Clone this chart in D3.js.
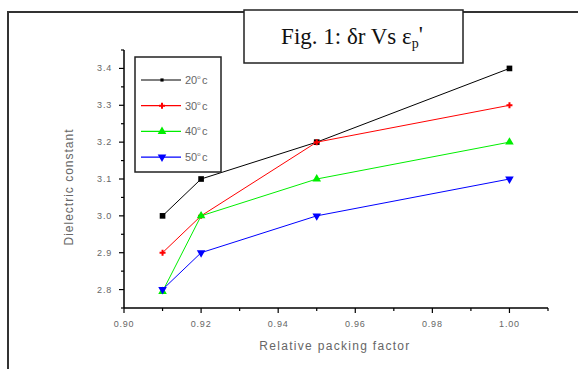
<!DOCTYPE html>
<html>
<head>
<meta charset="utf-8">
<script src="https://cdnjs.cloudflare.com/ajax/libs/d3/7.8.5/d3.min.js"></script>
<style>
  body { margin: 0; background: #fff; }
  svg { display: block; }
</style>
</head>
<body>
<svg width="578" height="369"></svg>
<script>
'use strict';

// chart data
const packing = [0.91, 0.92, 0.95, 1.00];
const temps = ['20', '30', '40', '50'];
const eps20 = [3.0, 3.1, 3.2, 3.4];
const eps30 = [2.9, 3.0, 3.2, 3.3];
const eps40 = [2.795, 3.0, 3.1, 3.2];
const eps50 = [2.8, 2.9, 3.0, 3.1];
const xTicks = [0.90, 0.92, 0.94, 0.96, 0.98, 1.00];
const yTicks = [2.8, 2.9, 3.0, 3.1, 3.2, 3.3, 3.4];

const colors = ['#000', '#ff0000', '#00ee00', '#0000ff'];
const symbols = [d3.symbolSquare, d3.symbolCross, d3.symbolTriangle, d3.symbolTriangle];

const series = [eps20, eps30, eps40, eps50].map((vals, i) => ({
	name: temps[i],
	color: colors[i],
	symbol: symbols[i],
	flip: i === 3,
	points: packing.map((p, j) => ({x: p, y: vals[j]}))
}));

const svg = d3.select('svg');

// outer page frame
svg.append('rect')
	.attr('x', 8).attr('y', 12)
	.attr('width', 600).attr('height', 400)
	.attr('fill', 'none')
	.attr('stroke', '#333')
	.attr('stroke-width', 2);

const x = d3.scaleLinear().domain([0.90, 1.01]).range([124, 548]);
const y = d3.scaleLinear().domain([2.75, 3.45]).range([308, 50]);

const tickFont = 'Liberation Sans, Arial, sans-serif';

// x axis
const xAxis = svg.append('g').attr('transform', 'translate(0,308)');
xAxis.append('line')
	.attr('x1', x(0.90)).attr('x2', x(1.01))
	.attr('stroke', '#000').attr('stroke-width', 1.5);
d3.range(0, 12).forEach(k => {
	const v = 0.90 + k * 0.01;
	xAxis.append('line')
		.attr('x1', x(v)).attr('x2', x(v))
		.attr('y1', 0).attr('y2', k % 2 === 0 ? 5 : 3)
		.attr('stroke', '#000').attr('stroke-width', 1.2);
});
xAxis.selectAll('text.tick')
	.data(xTicks)
	.join('text')
	.attr('x', d => x(d))
	.attr('y', 18.5)
	.attr('text-anchor', 'middle')
	.attr('font-family', tickFont)
	.attr('font-size', 9)
	.attr('letter-spacing', 0.8)
	.attr('fill', '#666')
	.text(d => d3.format('.2f')(d));

// y axis
const yAxis = svg.append('g').attr('transform', 'translate(124,0)');
yAxis.append('line')
	.attr('y1', y(2.75)).attr('y2', y(3.45))
	.attr('stroke', '#000').attr('stroke-width', 1.5);
d3.range(0, 15).forEach(k => {
	const v = 2.75 + k * 0.05;
	yAxis.append('line')
		.attr('y1', y(v)).attr('y2', y(v))
		.attr('x1', 0).attr('x2', k % 2 === 1 ? -5 : -3)
		.attr('stroke', '#000').attr('stroke-width', 1.2);
});
yAxis.selectAll('text.tick')
	.data(yTicks)
	.join('text')
	.attr('x', -12)
	.attr('y', d => y(d) + 3)
	.attr('text-anchor', 'end')
	.attr('font-family', tickFont)
	.attr('font-size', 9)
	.attr('letter-spacing', 0.8)
	.attr('fill', '#666')
	.text(d => d3.format('.1f')(d));

// axis titles
svg.append('text')
	.attr('transform', 'translate(73,187) rotate(-90)')
	.attr('text-anchor', 'middle')
	.attr('font-family', tickFont)
	.attr('font-size', 12)
	.attr('letter-spacing', 1)
	.attr('fill', '#666')
	.text('Dielectric constant');
svg.append('text')
	.attr('x', 335).attr('y', 350)
	.attr('text-anchor', 'middle')
	.attr('font-family', tickFont)
	.attr('font-size', 12)
	.attr('letter-spacing', 1.3)
	.attr('fill', '#666')
	.text('Relative packing factor');

// lines and markers
const line = d3.line().x(d => x(d.x)).y(d => y(d.y));
const sym = (s) => d3.symbol().type(s.symbol).size(s.symbol === d3.symbolCross ? 20 : 32);

series.forEach(s => {
	svg.append('path')
		.datum(s.points)
		.attr('d', line)
		.attr('fill', 'none')
		.attr('stroke', s.color)
		.attr('stroke-width', 1);
	svg.append('g')
		.selectAll('path')
		.data(s.points)
		.join('path')
		.attr('transform', d => `translate(${x(d.x)},${y(d.y)})${s.flip ? ' rotate(180)' : ''}`)
		.attr('d', sym(s))
		.attr('fill', s.color);
});

// legend
const legend = svg.append('g');
legend.append('rect')
	.attr('x', 135).attr('y', 57)
	.attr('width', 86).attr('height', 115)
	.attr('fill', '#fff')
	.attr('stroke', '#222')
	.attr('stroke-width', 1.5);
series.forEach((s, i) => {
	const ly = 80 + i * 25.7;
	legend.append('line')
		.attr('x1', 141).attr('x2', 181)
		.attr('y1', ly).attr('y2', ly)
		.attr('stroke', s.color).attr('stroke-width', 1.2);
	legend.append('path')
		.attr('transform', `translate(162,${ly})${s.flip ? ' rotate(180)' : ''}`)
		.attr('d', d3.symbol().type(s.symbol).size(s.symbol === d3.symbolSquare ? 10 : (s.symbol === d3.symbolCross ? 20 : 32)))
		.attr('fill', s.color);
	const t = legend.append('text')
		.attr('x', 185).attr('y', ly + 4)
		.attr('font-family', tickFont)
		.attr('font-size', 11)
		.attr('fill', '#666');
	t.append('tspan').text(s.name);
	t.append('tspan').attr('dy', -5).attr('font-size', 6).text('o');
	t.append('tspan').attr('dy', 5).attr('dx', 1.5).text('c');
});

// title box
svg.append('rect')
	.attr('x', 244).attr('y', 10)
	.attr('width', 219).attr('height', 53)
	.attr('fill', '#fff')
	.attr('stroke', '#222')
	.attr('stroke-width', 1.5);
const title = svg.append('text')
	.attr('x', 352).attr('y', 44)
	.attr('text-anchor', 'middle')
	.attr('font-family', 'Liberation Serif, Times New Roman, serif')
	.attr('font-size', 23)
	.attr('fill', '#111');
title.append('tspan').text('Fig. 1: δr Vs ε');
title.append('tspan').attr('dy', 4).attr('font-size', 14).text('p');
title.append('tspan').attr('dy', -6).text('\'');
</script>
</body>
</html>
